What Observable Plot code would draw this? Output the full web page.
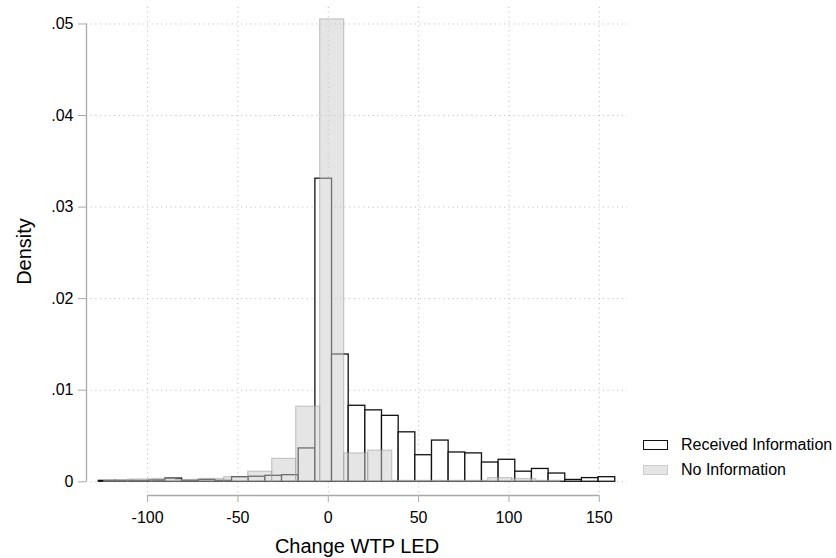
<!DOCTYPE html>
<html><head><meta charset="utf-8">
<script src="https://cdn.jsdelivr.net/npm/d3@7"></script>
<script src="https://cdn.jsdelivr.net/npm/@observablehq/plot@0.6"></script>
<style>
body{margin:0;background:#fff;}
#wrap{position:relative;width:836px;height:558px;font-family:Helvetica,"Liberation Sans",Arial,sans-serif;background:#fff;}
.row{position:absolute;left:643px;height:18px;line-height:18px;font-size:16px;color:#000;white-space:nowrap;}
.sw{position:absolute;left:0;top:4px;width:25px;height:10px;box-sizing:border-box;}
.lab{position:absolute;left:38px;top:0;}
</style></head><body><div id="wrap"></div>
<script>
// ---- data ----
const xTicks = [-100, -50, 0, 50, 100, 150];
const yTicks = [0, 0.01, 0.02, 0.03, 0.04, 0.05];
const xLabel = "Change WTP LED";
const yLabel = "Density";
const seriesNames = ["Received Information", "No Information"];

// Received Information histogram (bin start, bin width, densities)
const recvStart = -127.0;
const recvWidth = 9.22;
const recvDensity = [
  0.0001, 0.0001, 0.0001, 0.00015, 0.00035, 0.0001, 0.0002, 0.0001, 0.0005, 0.00055,
  0.00065, 0.00072, 0.00364, 0.0331, 0.0139, 0.0083, 0.0078, 0.0072, 0.0054, 0.0029,
  0.0045, 0.0032, 0.0031, 0.0021, 0.0024, 0.0011, 0.0014, 0.0009, 0.0002, 0.0004, 0.0005
];

// No Information histogram
const noInfoStart = -124.0;
const noInfoWidth = 13.28;
const noInfoDensity = [
  0.0001, 0.00025, 0.0003, 0.0002, 0.0003, 0.0005, 0.0011, 0.0025, 0.0082, 0.0505,
  0.0031, 0.0034, 0.0001, 0.0001, 0.0001, 0.0001, 0.0004, 0.0003, 0.0001
];

const xDomain = [-133.8, 165.6];
const yDomain = [-0.0015, 0.0518];

// ---- build ----
const recv = recvDensity.map((d, i) => ({x1: recvStart + i * recvWidth, x2: recvStart + (i + 1) * recvWidth, y: d}));
const noInfo = noInfoDensity.map((d, i) => ({x1: noInfoStart + i * noInfoWidth, x2: noInfoStart + (i + 1) * noInfoWidth, y: d}));

const fmtY = d => d === 0 ? "0" : d3.format(".2f")(d).replace(/^0/, "");
const axisGrey = "#a9a9a9";
const gridStyle = {stroke: "#b8b8b8", strokeOpacity: 1, strokeWidth: 1, strokeDasharray: "1,3.7"};

const chart = Plot.plot({
  width: 836, height: 558,
  marginLeft: 86, marginRight: 209, marginTop: 7, marginBottom: 63,
  x: {domain: xDomain},
  y: {domain: yDomain},
  style: {fontFamily: 'Helvetica, "Liberation Sans", Arial, sans-serif', fontSize: "16px", background: "white", color: "black", overflow: "visible"},
  marks: [
    Plot.gridY(yTicks, gridStyle),
    Plot.gridX(xTicks, gridStyle),
    Plot.rect(recv, {x1: "x1", x2: "x2", y1: d => 0, y2: "y", fill: "white", stroke: "#111", strokeWidth: 1.3}),
    Plot.rect(noInfo, {x1: "x1", x2: "x2", y1: d => 0, y2: "y", fill: "#cccccc", fillOpacity: 0.5, stroke: "#999", strokeOpacity: 0.5, strokeWidth: 1.2}),
    Plot.ruleX([xDomain[0]], {y1: d => yTicks[0], y2: d => yTicks[yTicks.length - 1], stroke: axisGrey, strokeWidth: 1.3}),
    Plot.ruleY([yDomain[0]], {x1: d => xTicks[0], x2: d => xTicks[xTicks.length - 1], stroke: axisGrey, strokeWidth: 1.3}),
    Plot.axisY(yTicks, {tickSize: 8, tickPadding: 5, tickFormat: fmtY, stroke: axisGrey, fill: "black", label: null, fontSize: 16}),
    Plot.axisX(xTicks, {tickSize: 7, tickPadding: 9, tickFormat: d => String(d), stroke: axisGrey, fill: "black", label: null, fontSize: 16}),
    Plot.text([yLabel], {frameAnchor: "left", text: d => d, dx: -62, rotate: -90, textAnchor: "middle", lineAnchor: "middle", fontSize: 20, fill: "black"}),
    Plot.text([xLabel], {frameAnchor: "bottom", text: d => d, dy: 51, textAnchor: "middle", lineAnchor: "middle", fontSize: 20, fill: "black"})
  ]
});

const wrap = document.getElementById("wrap");
wrap.appendChild(chart);

// legend
const swatchStyles = [
  {background: "#ffffff", border: "1.3px solid #111"},
  {background: "#e5e5e5", border: "1px solid #cdcdcd"}
];
seriesNames.forEach((name, i) => {
  const row = document.createElement("div");
  row.className = "row";
  row.style.top = (436 + i * 25) + "px";
  const sw = document.createElement("span");
  sw.className = "sw";
  sw.style.background = swatchStyles[i].background;
  sw.style.border = swatchStyles[i].border;
  const lab = document.createElement("span");
  lab.className = "lab";
  lab.textContent = name;
  row.appendChild(sw);
  row.appendChild(lab);
  wrap.appendChild(row);
});
</script></body></html>
